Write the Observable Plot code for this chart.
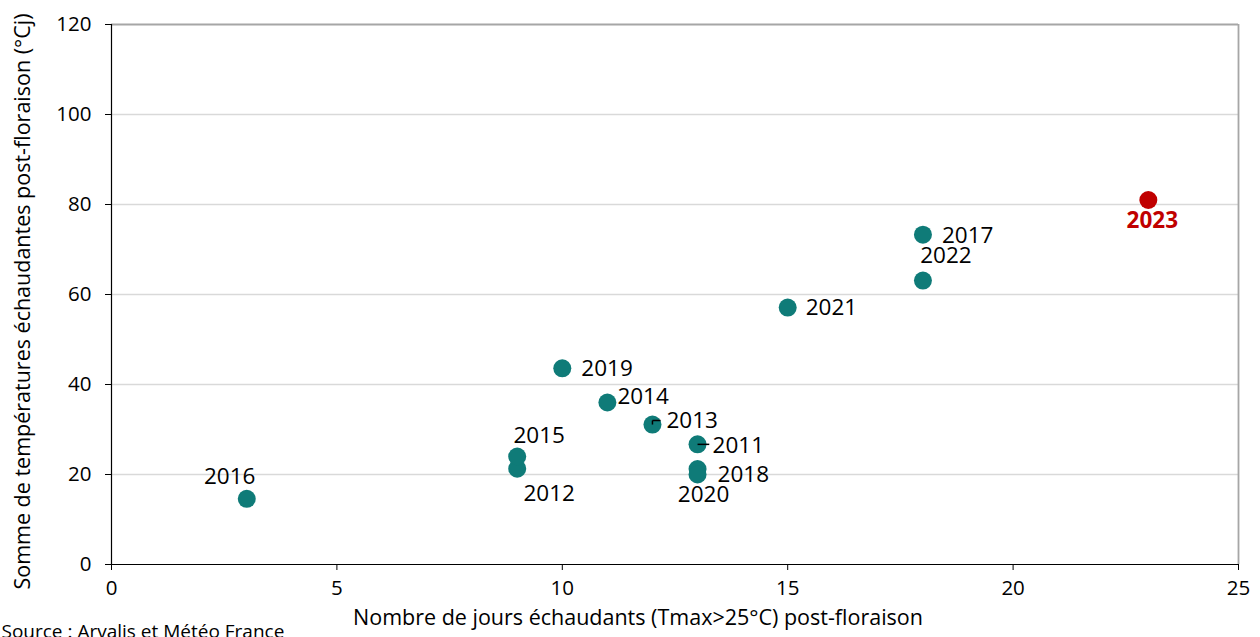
<!DOCTYPE html>
<html><head><meta charset="utf-8">
<script src="https://cdn.jsdelivr.net/npm/d3@7"></script>
<script src="https://cdn.jsdelivr.net/npm/@observablehq/plot@0.6"></script>
<style>body{margin:0;background:#fff;overflow:hidden}</style>
</head><body><div id="chart"></div>
<script>
// Data
const years      = [2011, 2012, 2013, 2014, 2015, 2016, 2017, 2018, 2019, 2020, 2021, 2022, 2023];
const hotDays    = [13,   9,    12,   11,   9,    3,    18,   13,   10,   13,   15,   18,   23];
const degreeDays = [26.7, 21.3, 31.1, 36.0, 24.0, 14.6, 73.3, 21.2, 43.6, 20.0, 57.1, 63.1, 81.0];
const xTicks = [0, 5, 10, 15, 20, 25];
const yTicks = [0, 20, 40, 60, 80, 100, 120];
const xTitle = "Nombre de jours échaudants (Tmax>25°C) post-floraison";
const yTitle = "Somme de températures échaudantes post-floraison (°Cj)";
const source = "Source : Arvalis et Météo France";
const highlightYear = 2023;

// Label placement (pixel offsets, styling only)
const place = {
  2011: {dx: 15, dy: 1, a: "start"},
  2012: {dx: 32, dy: 25, a: "middle"},
  2013: {dx: 14, dy: -4, a: "start"},
  2014: {dx: 10, dy: -6, a: "start"},
  2015: {dx: 22, dy: -21, a: "middle"},
  2016: {dx: -17, dy: -22, a: "middle"},
  2017: {dx: 19, dy: 1, a: "start"},
  2018: {dx: 20, dy: 6, a: "start"},
  2019: {dx: 19, dy: 0, a: "start"},
  2020: {dx: 6, dy: 20, a: "middle"},
  2021: {dx: 18, dy: 0, a: "start"},
  2022: {dx: 23, dy: -25, a: "middle"},
  2023: {dx: 4, dy: 21, a: "middle"}
};

const rows = years.map((y, i) => ({year: y, x: hotDays[i], y: degreeDays[i], hi: y === highlightYear}));
const normal = rows.filter(d => !d.hi);
const hi = rows.filter(d => d.hi);
const FONT = "Open Sans, sans-serif";
const teal = "#0F7B78", red = "#C00000";

const labelMarks = rows.map(d => Plot.text([d], {
  x: "x", y: "y", text: d => String(d.year),
  dx: place[d.year].dx, dy: place[d.year].dy, textAnchor: place[d.year].a,
  fontSize: 22.5, fontFamily: FONT,
  fill: d.hi ? red : "#000", fontWeight: d.hi ? "bold" : "normal"
}));

const lead2013 = rows.filter(d => d.year === 2013);
const lead2011 = rows.filter(d => d.year === 2011);

const chart = Plot.plot({
  width: 1260, height: 637,
  marginLeft: 111, marginRight: 22, marginTop: 24, marginBottom: 73,
  style: {fontFamily: FONT, background: "#fff", overflow: "visible"},
  x: {domain: [0, 25]},
  y: {domain: [0, 120]},
  marks: [
    Plot.gridY(yTicks.filter(t => t > 0 && t < 120), {stroke: "#d9d9d9", strokeOpacity: 1, strokeWidth: 1.3}),
    Plot.ruleY([120], {stroke: "#a6a6a6", strokeWidth: 1.8}),
    Plot.ruleX([25], {stroke: "#a6a6a6", strokeWidth: 1.8}),
    Plot.axisY(yTicks, {tickSize: 6, tickPadding: 14, fontSize: 20.5, label: null, stroke: "#000"}),
    Plot.axisX(xTicks, {tickSize: 6, tickPadding: 10, fontSize: 20.5, label: null, stroke: "#000"}),
    Plot.ruleX([0], {stroke: "#000", strokeWidth: 1.2}),
    Plot.ruleY([0], {stroke: "#000", strokeWidth: 1.2}),
    Plot.dot(normal, {x: "x", y: "y", r: 9, fill: teal}),
    Plot.dot(hi, {x: "x", y: "y", r: 9, fill: red}),
    Plot.link(lead2013, {x1: "x", y1: "y", x2: "x", y2: d => d.y + 0.9, stroke: "#000", strokeWidth: 1.5}),
    Plot.link(lead2013, {x1: "x", y1: d => d.y + 0.9, x2: d => d.x + 0.18, y2: d => d.y + 0.9, stroke: "#000", strokeWidth: 1.5}),
    Plot.link(lead2011, {x1: "x", y1: "y", x2: d => d.x + 0.26, y2: "y", stroke: "#000", strokeWidth: 1.5}),
    ...labelMarks,
    Plot.text([xTitle], {frameAnchor: "bottom", dx: -37, dy: 60, fontSize: 21.5, fontFamily: FONT, fill: "#000"}),
    Plot.text([yTitle], {frameAnchor: "left", dx: -88, dy: 7, rotate: -90, textAnchor: "middle", fontSize: 21.5, fontFamily: FONT, fill: "#000"}),
    Plot.text([source], {frameAnchor: "bottom-left", dx: -110, dy: 73, textAnchor: "start", fontSize: 19, fontFamily: FONT, fill: "#000"})
  ]
});
document.getElementById("chart").appendChild(chart);
</script>
</body></html>
